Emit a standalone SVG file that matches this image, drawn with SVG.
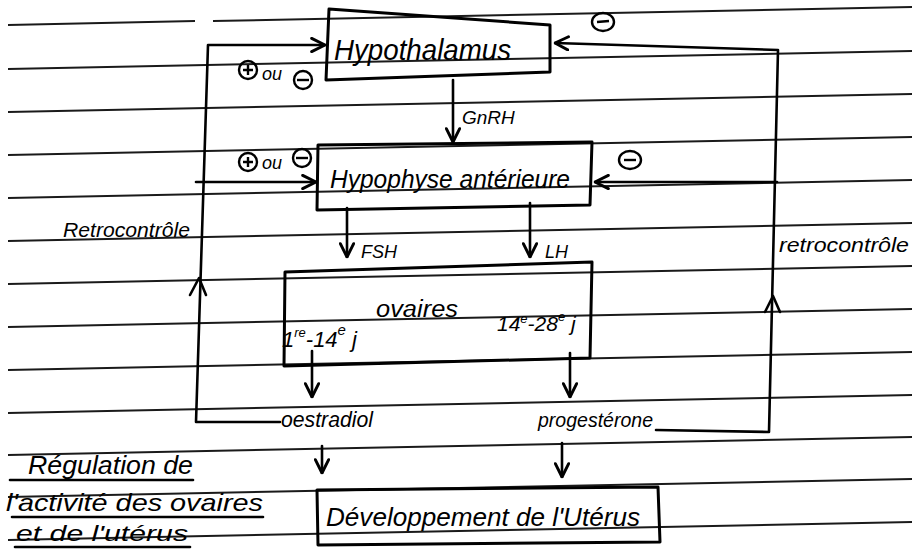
<svg xmlns="http://www.w3.org/2000/svg" width="916" height="549" viewBox="0 0 916 549">
<style>
.rule{stroke:#1a1a1a;stroke-width:2;fill:none}
.ink{stroke:#000;stroke-width:2.6;fill:none;stroke-linecap:round;stroke-linejoin:round}
.box{stroke:#000;stroke-width:3;fill:none;stroke-linejoin:round}
.t{font-family:"Liberation Sans",Arial,sans-serif;font-style:italic;fill:#000}
.sign{stroke:#000;stroke-width:2.4;fill:none}
</style>
<defs>
<marker id="arr" markerUnits="userSpaceOnUse" markerWidth="16" markerHeight="16" viewBox="0 0 12 12" refX="11" refY="6" orient="auto">
<path d="M1,1 L11,6 L1,11" fill="none" stroke="#000" stroke-width="2.2" stroke-linecap="round" stroke-linejoin="round"/>
</marker>
</defs>
<rect width="916" height="549" fill="#fff"/>
<g id="ruled-lines">
<line class="rule" x1="8" y1="25" x2="195" y2="21"/>
<line class="rule" x1="213" y1="21" x2="912" y2="7"/>
<line class="rule" x1="8" y1="69" x2="912" y2="51"/>
<line class="rule" x1="8" y1="112" x2="912" y2="94"/>
<line class="rule" x1="8" y1="155" x2="912" y2="137"/>
<line class="rule" x1="8" y1="198" x2="912" y2="180"/>
<line class="rule" x1="8" y1="241" x2="912" y2="223"/>
<line class="rule" x1="8" y1="284" x2="912" y2="266"/>
<line class="rule" x1="8" y1="327" x2="912" y2="309"/>
<line class="rule" x1="8" y1="370" x2="912" y2="352"/>
<line class="rule" x1="8" y1="413" x2="912" y2="395"/>
<line class="rule" x1="8" y1="455" x2="912" y2="437"/>
<line class="rule" x1="8" y1="497" x2="912" y2="479"/>
<line class="rule" x1="8" y1="540" x2="912" y2="522"/>
</g>
<g id="connectors">
<path class="ink" d="M280,422 L196,422 L208,45 L325,45" marker-end="url(#arr)"/>
<path class="ink" d="M190,295 L199,278 L206,295"/>
<path class="ink" d="M196,182 L316,182" marker-end="url(#arr)"/>
<path class="ink" d="M453,80 L453,142" marker-end="url(#arr)"/>
<path class="ink" d="M656,430 L769,432 L778,50 L555,43" marker-end="url(#arr)"/>
<path class="ink" d="M765,312 L773,296 L780,312"/>
<path class="ink" d="M777,182 L595,182" marker-end="url(#arr)"/>
<path class="ink" d="M347,208 L347,257" marker-end="url(#arr)"/>
<path class="ink" d="M530,203 L530,257" marker-end="url(#arr)"/>
<path class="ink" d="M312,351 L312,397" marker-end="url(#arr)"/>
<path class="ink" d="M570,353 L570,397" marker-end="url(#arr)"/>
<path class="ink" d="M322,446 L322,473" marker-end="url(#arr)"/>
<path class="ink" d="M562,443 L562,477" marker-end="url(#arr)"/>
<text class="t" x="462" y="124" font-size="19">GnRH</text>
<text class="t" x="361" y="258" font-size="18">FSH</text>
<text class="t" x="545" y="258" font-size="18">LH</text>
<text class="t" x="63" y="237" font-size="20" textLength="127" lengthAdjust="spacingAndGlyphs">Retrocontrôle</text>
<text class="t" x="779" y="252" font-size="20" textLength="130" lengthAdjust="spacingAndGlyphs">retrocontrôle</text>
<g id="signs">
<circle class="sign" cx="248" cy="70" r="9"/>
<path class="sign" d="M243,70 L253,70 M248,65 L248,75"/>
<text class="t" x="262" y="80" font-size="18">ou</text>
<circle class="sign" cx="303" cy="80" r="9"/>
<line class="sign" x1="297" y1="80" x2="309" y2="80"/>
<circle class="sign" cx="248" cy="162" r="9"/>
<path class="sign" d="M243,162 L253,162 M248,157 L248,167"/>
<text class="t" x="262" y="169" font-size="18">ou</text>
<circle class="sign" cx="302" cy="158" r="9"/>
<line class="sign" x1="296" y1="158" x2="308" y2="158"/>
<ellipse class="sign" cx="603" cy="22" rx="11" ry="9"/>
<line class="sign" x1="597" y1="22" x2="609" y2="21" stroke-width="3.2"/>
<ellipse class="sign" cx="630" cy="160" rx="11" ry="9"/>
<line class="sign" x1="624" y1="160" x2="636" y2="160" stroke-width="3.2"/>
</g>
</g>
<g id="hypothalamus">
<path class="box" d="M329,9 L550,25 L550,72 L326,80 Z"/>
<text class="t" x="334" y="60" font-size="30" textLength="177" lengthAdjust="spacingAndGlyphs">Hypothalamus</text>
</g>
<g id="hypophyse">
<path class="box" d="M318,145 L592,142 L590,205 L317,210 Z"/>
<text class="t" x="330" y="188" font-size="25" textLength="240" lengthAdjust="spacingAndGlyphs">Hypophyse antérieure</text>
</g>
<g id="ovaires">
<path class="box" d="M285,272 L592,262 L590,358 L284,366 Z"/>
<text class="t" x="376" y="317" font-size="23" textLength="82" lengthAdjust="spacingAndGlyphs">ovaires</text>
<text class="t" x="282" y="347" font-size="22">1<tspan font-size="13" dy="-10">re</tspan><tspan dy="10">-14</tspan><tspan font-size="15" dy="-12">e</tspan><tspan dy="12"> j</tspan></text>
<text class="t" x="497" y="331" font-size="21">14<tspan font-size="13" dy="-8">e</tspan><tspan dy="8">-28</tspan><tspan font-size="13" dy="-10">e</tspan><tspan dy="10"> j</tspan></text>
</g>
<g id="oestradiol">
<text class="t" x="281" y="427" font-size="22" textLength="92" lengthAdjust="spacingAndGlyphs">oestradiol</text>
</g>
<g id="progesterone">
<text class="t" x="538" y="427" font-size="21" textLength="115" lengthAdjust="spacingAndGlyphs">progestérone</text>
</g>
<g id="developpement">
<path class="box" d="M317,490 L658,487 L660,542 L318,545 Z"/>
<text class="t" x="326" y="526" font-size="25" textLength="314" lengthAdjust="spacingAndGlyphs">Développement de l'Utérus</text>
</g>
<g id="title">
<text class="t" x="28" y="474" font-size="25" textLength="165" lengthAdjust="spacingAndGlyphs">Régulation de</text>
<line class="ink" x1="10" y1="480" x2="193" y2="480"/>
<text class="t" x="6" y="511" font-size="24" textLength="257" lengthAdjust="spacingAndGlyphs">l'activité des ovaires</text>
<line class="ink" x1="12" y1="517" x2="263" y2="517"/>
<text class="t" x="16" y="541" font-size="22" textLength="172" lengthAdjust="spacingAndGlyphs">et de l'utérus</text>
<line class="ink" x1="15" y1="547" x2="190" y2="547"/>
</g>
</svg>
